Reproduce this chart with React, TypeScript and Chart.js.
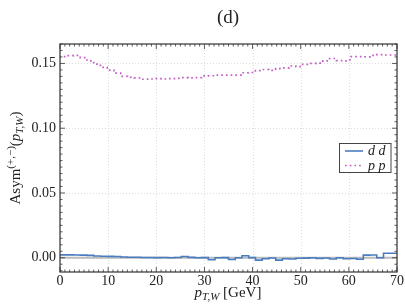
import { useEffect, useRef } from "react";
import { Chart, registerables } from "chart.js";
Chart.register(...registerables);

const binEdgeStart = 0;
const binWidth = 1.4;
const ddValues = [
  0.0021, 0.0022, 0.0022, 0.0021, 0.002, 0.0018, 0.0013, 0.0012, 0.0011, 0.001,
  0.0006, 0.0004, 0.0004, 0.0002, 0.0002, 0.0001, 0.0002, 0.0, 0.0002, 0.001,
  0.0003, 0.0, 0.0001, -0.0016, 0.0, 0.0001, -0.0013, 0.0, 0.0015, 0.0001,
  -0.0018, -0.0008, -0.0002, -0.0018, -0.0008, -0.001, -0.0004, -0.0003, 0.0, -0.0005,
  -0.0002, -0.001, 0.0, -0.0008, -0.0006, -0.0012, 0.002, 0.0021, 0.0, 0.0035,
];
const ppValues = [
  0.1545, 0.1552, 0.156, 0.1562, 0.1545, 0.152, 0.1495, 0.147, 0.1448, 0.1425,
  0.14, 0.1393, 0.1388, 0.1378, 0.138, 0.1383, 0.138, 0.1382, 0.1385, 0.139,
  0.1388, 0.139, 0.1404, 0.1405, 0.141, 0.141, 0.141, 0.141, 0.1428, 0.143,
  0.1445, 0.1453, 0.1447, 0.146, 0.1465, 0.148, 0.1475, 0.1492, 0.15, 0.1502,
  0.152, 0.1538, 0.1522, 0.152, 0.1552, 0.1552, 0.155, 0.1562, 0.1568, 0.1565,
];
const xTicks = [0, 10, 20, 30, 40, 50, 60, 70];
const yTicks = [0, 0.05, 0.1, 0.15];
const xRange = [0, 70];
const yRange = [-0.011, 0.165];
const seriesLabels = ["d d", "p p"];

const BLUE = "#4a7dbf";
const PINK = "#c25ec4";
const SERIF = "'Liberation Serif', 'DejaVu Serif', serif";

function toSteps(vals: number[]) {
  const pts = vals.map((v, i) => ({ x: binEdgeStart + i * binWidth, y: v }));
  pts.push({ x: binEdgeStart + vals.length * binWidth, y: vals[vals.length - 1] });
  return pts;
}

const framePlugin = {
  id: "framePlugin",
  beforeDatasetsDraw(chart: any) {
    const { ctx, chartArea: a, scales } = chart;
    ctx.save();
    ctx.strokeStyle = "#d4d4d4";
    ctx.lineWidth = 0.8;
    ctx.setLineDash([1, 2]);
    xTicks.forEach((v) => {
      const px = Math.round(scales.x.getPixelForValue(v)) + 0.5;
      ctx.beginPath();
      ctx.moveTo(px, a.top);
      ctx.lineTo(px, a.bottom);
      ctx.stroke();
    });
    yTicks.forEach((v) => {
      const py = Math.round(scales.y.getPixelForValue(v)) + 0.5;
      ctx.beginPath();
      ctx.moveTo(a.left, py);
      ctx.lineTo(a.right, py);
      ctx.stroke();
    });
    ctx.restore();
  },
  afterDatasetsDraw(chart: any) {
    const { ctx, chartArea: a, scales } = chart;
    ctx.save();
    ctx.strokeStyle = "#333";
    ctx.lineWidth = 0.8;
    ctx.setLineDash([]);
    const tickX = (v: number, len: number) => {
      const px = scales.x.getPixelForValue(v);
      ctx.beginPath();
      ctx.moveTo(px, a.bottom);
      ctx.lineTo(px, a.bottom - len);
      ctx.moveTo(px, a.top);
      ctx.lineTo(px, a.top + len);
      ctx.stroke();
    };
    const tickY = (v: number, len: number) => {
      const py = scales.y.getPixelForValue(v);
      ctx.beginPath();
      ctx.moveTo(a.left, py);
      ctx.lineTo(a.left + len, py);
      ctx.moveTo(a.right, py);
      ctx.lineTo(a.right - len, py);
      ctx.stroke();
    };
    for (let i = 0; i <= 70; i++) tickX(i, i % 10 === 0 ? 5 : 2.5);
    for (let k = -2; k <= 33; k++) {
      const v = k * 0.005;
      if (v < yRange[0] || v > yRange[1]) continue;
      tickY(v, k % 10 === 0 ? 5 : 2.5);
    }
    ctx.lineWidth = 1.2;
    ctx.strokeStyle = "#333";
    ctx.strokeRect(a.left, a.top, a.right - a.left, a.bottom - a.top);

    // legend
    const lx = 339.5, ly = 143.5, lw = 51.5, lh = 29;
    ctx.fillStyle = "#fff";
    ctx.fillRect(lx, ly, lw, lh);
    ctx.lineWidth = 1;
    ctx.strokeStyle = "#444";
    ctx.strokeRect(lx, ly, lw, lh);
    const ds = chart.data.datasets;
    const rows = [151, 165.5];
    [0, 1].forEach((r) => {
      const d = ds[r];
      ctx.beginPath();
      ctx.strokeStyle = d.borderColor;
      ctx.lineWidth = d.borderWidth;
      ctx.setLineDash(d.borderDash || []);
      ctx.moveTo(345, rows[r]);
      ctx.lineTo(363, rows[r]);
      ctx.stroke();
      ctx.setLineDash([]);
      ctx.fillStyle = "#222";
      ctx.font = `italic 14px ${SERIF}`;
      ctx.textBaseline = "middle";
      ctx.textAlign = "left";
      ctx.fillText(d.label, 368, rows[r] + 0.5);
    });

    // title
    ctx.fillStyle = "#222";
    ctx.font = `19px ${SERIF}`;
    ctx.textAlign = "center";
    ctx.textBaseline = "middle";
    ctx.fillText("(d)", 228, 18);

    const drawPieces = (pieces: { t: string; f: string; dy: number }[], cx: number, cy: number, rot: boolean) => {
      ctx.save();
      ctx.textAlign = "left";
      ctx.textBaseline = "alphabetic";
      let total = 0;
      pieces.forEach((p) => {
        ctx.font = p.f;
        total += ctx.measureText(p.t).width;
      });
      ctx.translate(cx, cy);
      if (rot) ctx.rotate(-Math.PI / 2);
      let x = -total / 2;
      pieces.forEach((p) => {
        ctx.font = p.f;
        ctx.fillText(p.t, x, p.dy);
        x += ctx.measureText(p.t).width;
      });
      ctx.restore();
    };
    const main = `15px ${SERIF}`;
    const it = `italic 15px ${SERIF}`;
    const small = `11px ${SERIF}`;
    const smallIt = `italic 11px ${SERIF}`;
    drawPieces(
      [
        { t: "Asym", f: main, dy: 0 },
        { t: "(+,\u2212)", f: small, dy: -6 },
        { t: "(", f: main, dy: 0 },
        { t: "p", f: it, dy: 0 },
        { t: "T,W", f: smallIt, dy: 3 },
        { t: ")", f: main, dy: 0 },
      ],
      20,
      158,
      true
    );
    drawPieces(
      [
        { t: "p", f: it, dy: 0 },
        { t: "T,W", f: smallIt, dy: 3 },
        { t: " [GeV]", f: main, dy: 0 },
      ],
      228,
      297,
      false
    );
    ctx.restore();
  },
};

export default function App() {
  const ref = useRef<HTMLCanvasElement>(null);
  useEffect(() => {
    document.body.style.margin = "0";
    const chart = new Chart(ref.current!, {
      type: "line",
      data: {
        datasets: [
          {
            label: seriesLabels[0],
            data: toSteps(ddValues),
            borderColor: BLUE,
            borderWidth: 1.6,
            stepped: "after",
            pointRadius: 0,
            fill: false,
            order: 1,
          },
          {
            label: seriesLabels[1],
            data: toSteps(ppValues),
            borderColor: PINK,
            borderWidth: 1.7,
            borderDash: [1.7, 3],
            stepped: "after",
            pointRadius: 0,
            fill: false,
            order: 2,
          },
          {
            label: "zero",
            data: [
              { x: xRange[0], y: 0 },
              { x: xRange[1], y: 0 },
            ],
            borderColor: "#bcbcbc",
            borderWidth: 2,
            pointRadius: 0,
            fill: false,
            order: 10,
          },
        ] as any,
      },
      options: {
        animation: false,
        responsive: false,
        layout: { padding: { left: 0, right: 8, top: 44, bottom: 0 } },
        plugins: { legend: { display: false }, tooltip: { enabled: false }, title: { display: false } },
        scales: {
          x: {
            type: "linear",
            min: xRange[0],
            max: xRange[1],
            afterBuildTicks: (s: any) => {
              s.ticks = xTicks.map((v) => ({ value: v }));
            },
            afterFit: (s: any) => {
              s.height = 32;
            },
            grid: { display: false, drawTicks: false },
            border: { display: false },
            ticks: {
              padding: 1,
              color: "#222",
              font: { family: SERIF, size: 14 },
              maxRotation: 0,
              callback: (v: any) => String(v),
            },
          },
          y: {
            type: "linear",
            min: yRange[0],
            max: yRange[1],
            afterBuildTicks: (s: any) => {
              s.ticks = yTicks.map((v) => ({ value: v }));
            },
            afterFit: (s: any) => {
              s.width = 60;
            },
            grid: { display: false, drawTicks: false },
            border: { display: false },
            ticks: {
              padding: 4,
              color: "#222",
              font: { family: SERIF, size: 14 },
              callback: (v: any) => Number(v).toFixed(2),
            },
          },
        },
      },
      plugins: [framePlugin],
    });
    return () => chart.destroy();
  }, []);
  return (
    <div style={{ position: "fixed", left: 0, top: 0, width: 405, height: 304, background: "#fff" }}>
      <canvas ref={ref} width={405} height={304} />
    </div>
  );
}
